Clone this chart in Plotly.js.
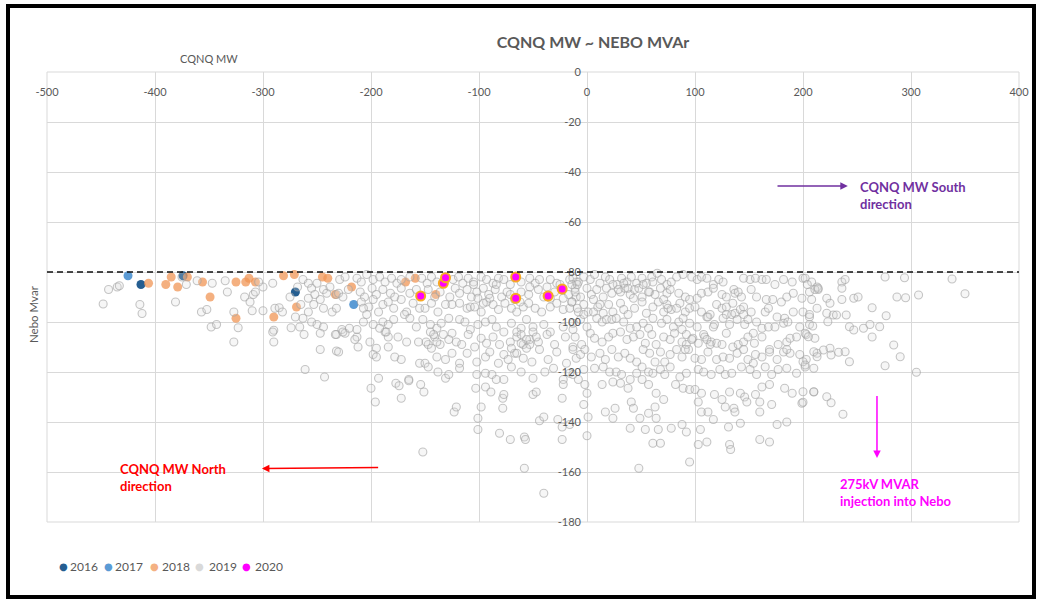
<!DOCTYPE html>
<html>
<head>
<meta charset="utf-8">
<script src="https://cdn.plot.ly/plotly-3.0.1.min.js"></script>
<style>
html,body{margin:0;padding:0;background:#fff;}
#chart{width:1039px;height:601px;}
</style>
</head>
<body>
<div id="chart"></div>
<script>
// ---------- DATA ----------
const xTickVals = [-500,-400,-300,-200,-100,0,100,200,300,400];
const yTickVals = [0,-20,-40,-60,-80,-100,-120,-140,-160,-180];
const threshold = -80;

const years = ['2016','2017','2018','2019','2020'];

const x2016 = [-413,-374,-270];
const y2016 = [-85,-81.5,-88];

const x2017 = [-425,-216];
const y2017 = [-81.5,-93];

const x2018 = [-406,-385,-390,-379,-370,-356,-349,-325,-316,-313,-307,-325,-281,-271,-269,-290,-245,-240,-233,-218,-168,-159,-140];
const y2018 = [-84.5,-82,-85,-86,-82,-84,-90,-84,-84,-82.5,-84,-98.5,-81.5,-81,-94,-98,-82,-82.5,-89,-86,-84,-82.5,-89];

const x2020 = [-154,-133,-131,-66,-66,-36,-23];
const y2020 = [-89.6,-84.5,-82.3,-82,-90.5,-89.6,-86.8];

// 2019 points [CQNQ MW, Nebo Mvar]
const pts2019 = [
// far left
[-443,-87],[-435,-86],[-433,-85.5],[-448,-92.8],[-414,-93],[-412,-96.6],[-371,-85],[-381,-92],[-361,-83.5],[-375,-82],
[-347,-84.5],[-335,-83.5],[-333,-88],[-317,-90],[-309,-89],[-357,-96],[-352,-95],[-348,-102],[-343,-101],[-323,-102.3],
[-327,-108],[-310,-95.5],[-300,-95.5],[-291,-84.5],[-289,-94.5],[-285,-94.3],[-282,-96],[-290,-103.3],[-291,-104],[-290,-108],
[-274,-102.3],[-266,-102],[-262,-105],[-247,-111],[-261,-119],[-243,-122],[-232,-111.6],[-263,-83],[-258,-84.5],[-255,-86.5],
[-250,-84.5],[-244,-87],[-241,-88.5],[-238,-86],[-232,-89],[-258,-90.5],[-247,-91],[-253,-93],[-244,-94.5],[-236,-96],
[-263,-98.5],[-255,-100],[-250,-101],[-244,-102],[-247,-104.5],[-232,-105],[-327,-96],[-312,-92],[-307,-88],[-300,-86],
[-304,-84],[-268,-86],[-275,-90],[-265,-93],[-258,-96],[-270,-98],[-252,-89],
// -240 .. -7
[-229,-83],[-224,-82],[-213,-82.5],[-209,-84],[-204,-81],[-198,-83],[-192,-82],[-187,-84],[-181,-82.5],[-176,-84.5],
[-172,-83],[-164,-82],[-153,-82.5],[-148,-84.5],[-144,-82],[-139,-84],[-124,-83],[-119,-82],[-115,-84.5],[-110,-82.5],
[-105,-84],[-98,-82],[-93,-83],[-87,-84.5],[-82,-82.5],[-77,-83],[-71,-85],[-61,-84],[-53,-82.5],[-48,-84.5],
[-44,-83],[-34,-83],[-28,-84.5],[-16,-83],[-10,-84],
[-230,-88.5],[-226,-90],[-221,-87],[-210,-88],[-206,-90],[-199,-86.5],[-195,-89],[-189,-87],[-182,-88.5],[-178,-90],
[-172,-86.5],[-164,-88.5],[-158,-87],[-147,-87],[-141,-90],[-136,-88],[-127,-90],[-122,-86.5],[-118,-88.5],[-111,-87],
[-107,-90],[-102,-88],[-96,-86.5],[-91,-89],[-85,-87],[-79,-90],[-74,-88],[-61,-88],[-54,-89],[-45,-87],
[-40,-90],[-30,-88],[-17,-89],[-10,-90],
[-232,-94.5],[-209,-92],[-202,-94],[-198,-91],[-193,-96],[-189,-93],[-184,-92],[-179,-94.5],[-172,-91],[-167,-96],
[-161,-92.5],[-155,-94.5],[-150,-94.5],[-144,-92.5],[-138,-96],[-131,-93],[-125,-93],[-118,-92.5],[-111,-94.5],[-108,-94],
[-104,-94],[-98,-96],[-93,-92],[-87,-93],[-82,-95],[-76,-92.5],[-70,-94.5],[-65,-96],[-59,-94],[-54,-92.5],
[-48,-94.5],[-42,-96],[-34,-94],[-28,-92.5],[-22,-95],[-14,-92],[-8,-96],
[-233,-105],[-227,-103],[-224,-104.5],[-213,-106],[-207,-100],[-198,-101],[-187,-104],[-184,-106],[-169,-97],[-164,-98.5],
[-158,-102],[-152,-99],[-145,-101],[-139,-102.5],[-135,-100.5],[-128,-98.5],[-125,-104.5],[-118,-99],[-113,-100],[-108,-103],
[-101,-101],[-94,-100],[-88,-99],[-84,-102],[-77,-104],[-70,-100.5],[-61,-102.5],[-56,-99],[-50,-102],[-40,-101],
[-34,-104],[-22,-102],[-13,-103],
[-230,-112],[-215,-107],[-212,-110],[-201,-108],[-195,-110.5],[-184,-110],[-175,-106],[-167,-108],[-156,-108],[-147,-109],
[-141,-106],[-136,-109],[-128,-107],[-121,-108],[-116,-109],[-110,-105],[-104,-110],[-98,-106.5],[-93,-108.5],[-87,-106],
[-81,-109],[-71,-108],[-65,-106],[-59,-109],[-53,-107],[-45,-108],[-37,-105],[-30,-109],[-20,-106],[-13,-110],
[-198,-113],[-195,-114],[-178,-114],[-172,-115],[-155,-116.5],[-150,-116.5],[-139,-114],[-131,-115],[-125,-112.5],[-118,-116.5],
[-111,-112.5],[-102,-116],[-94,-114],[-90,-112],[-82,-116.5],[-77,-113],[-73,-115],[-67,-112.5],[-59,-114.5],[-51,-116],
[-44,-111],[-36,-115],[-28,-112],[-19,-116.5],[-10,-114.5],
[-165,-123],[-147,-118],[-138,-120],[-131,-122.5],[-128,-121],[-118,-118.5],[-102,-121],[-94,-120.5],[-88,-121],[-84,-123],
[-77,-123],[-70,-118],[-61,-120],[-50,-122.5],[-39,-120],[-31,-118.5],[-22,-123],[-16,-120.5],
[-200,-126.5],[-193,-122.5],[-177,-124.5],[-174,-125.5],[-165,-123.5],[-154,-125],[-151,-128],[-103,-126.5],[-94,-126],[-89,-128],
[-78,-130.5],[-77,-129],[-50,-129],[-47,-128],[-22,-125],[-23,-130.5],
[-196,-132],[-172,-130.5],[-123,-136],[-121,-134],[-98,-134],[-78,-134.5],[-101,-138.5],[-44,-139.5],[-40,-138],[-27,-139],
[-101,-143],[-81,-144.5],[-71,-147],[-58,-146],[-57,-147],[-23,-147],[-23,-142],[-152,-152],[-58,-158.5],[-40,-168.5],
// denser clusters, -240 .. -7
[-65,-104],[-61,-105],[-56,-107],[-53,-109],[-50,-104],[-47,-106],[-61,-108.5],[-56,-110.5],[-70,-110.5],[-65,-112.5],
[-145,-104],[-142,-105],[-149,-108],[-144,-110.5],[-139,-108],[-133,-105],[-189,-100],[-184,-101],[-179,-99],[-192,-102.5],
[-186,-104],[-226,-104],[-220,-102.5],[-213,-103],[-207,-94.5],[-204,-97],[-105,-85],[-101,-90.5],[-96,-92.5],[-90,-90.5],
[-84,-85],[-71,-89],[-67,-91],[-62,-92],[-53,-86],[-37,-86],[-34,-90.5],[-25,-85],[-22,-90.5],[-16,-94.5],[-11,-86.5],
// -16 .. 215
[-13,-82.5],[-8,-84],[-3,-82],[3,-83],[7,-81],[12,-84.5],[17,-82],[21,-83],[28,-85],[32,-82.5],
[37,-84],[41,-82],[46,-84.5],[51,-82.5],[55,-84.5],[60,-82],[65,-80.5],[69,-83],[74,-85],[78,-84],
[83,-82],[89,-81],[97,-82],[102,-83],[106,-82],[111,-82.5],[117,-85],[122,-83],[126,-84],[136,-87],
[145,-82.5],[151,-83],[156,-82.5],[162,-83],[166,-83],[174,-85],[182,-83],[190,-84],[200,-82.5],[208,-84],[213,-86],
[-11,-88],[-6,-90],[0,-86.5],[4,-89],[9,-87],[15,-90],[18,-86.5],[23,-88.5],[31,-88],[35,-86.5],
[40,-89],[44,-87],[51,-90],[58,-88],[63,-89],[68,-86.5],[74,-88.5],[77,-87],[85,-88.5],[91,-90],
[95,-91],[102,-90.5],[106,-88.5],[112,-88],[117,-86.5],[125,-89],[129,-90],[137,-88.5],[140,-88],[143,-90],
[152,-87],[157,-90],[166,-91],[172,-91],[180,-92],[185,-90],[191,-88.5],[199,-90.5],[206,-88],[214,-87],
[-14,-92],[-9,-94.5],[-3,-93],[1,-96],[6,-91],[10,-94],[15,-96.5],[20,-93],[24,-96],[31,-92.5],
[34,-95],[38,-97],[44,-94.5],[51,-92],[55,-96.5],[61,-94],[66,-92],[71,-96],[74,-93],[78,-95],
[86,-92.5],[91,-96],[95,-94.5],[100,-94],[106,-96],[111,-98],[114,-97],[120,-93],[125,-94.5],[129,-97],
[134,-97],[137,-96.5],[142,-95],[145,-94],[152,-96],[157,-100],[165,-96],[168,-94.5],[176,-98],[183,-98.5],
[191,-96],[200,-96],[206,-98],[213,-94.5],
[-13,-100.5],[-6,-99],[0,-102],[9,-98.5],[14,-100],[18,-99],[23,-99],[27,-98.5],[34,-100],[40,-102.5],
[46,-102],[52,-100.5],[57,-102.5],[61,-98.5],[69,-100.5],[74,-99],[80,-102],[85,-100],[89,-98.5],[95,-100.5],
[102,-102],[108,-105],[112,-98],[118,-101],[126,-98.5],[132,-101],[139,-99],[146,-101],[154,-104.5],[162,-102.5],
[168,-102],[174,-102],[182,-100.5],[186,-100],[197,-102],[206,-101],
[-11,-106],[-5,-109],[3,-104.5],[7,-106.5],[14,-108],[20,-106],[24,-104.5],[31,-104],[37,-107],[43,-106],
[49,-105],[54,-108.5],[60,-105],[64,-109],[71,-106],[77,-107],[81,-104.5],[88,-108],[92,-109],[98,-106.5],
[103,-108.5],[109,-106],[115,-108],[120,-108.5],[125,-109],[129,-104.5],[135,-110],[140,-109],[145,-108],[149,-106],
[155,-108.5],[162,-106],[169,-111],[177,-109],[185,-108],[194,-106],[203,-105],[211,-106.5],
[-13,-111],[-6,-113],[-2,-111],[4,-114],[12,-112.5],[17,-115],[23,-111],[29,-114],[35,-112.5],[40,-114.5],
[46,-116],[52,-111],[58,-112.5],[63,-116],[68,-112],[72,-116],[77,-113],[83,-111],[88,-114],[94,-111],
[100,-114.5],[106,-115],[112,-112],[120,-115],[126,-114],[132,-114.5],[139,-112.5],[145,-111],[149,-115],[154,-116.5],
[162,-114],[169,-112],[176,-115],[182,-112],[188,-112.5],[197,-113],[203,-115],[213,-112.5],
[-13,-121],[-3,-119],[7,-118.5],[15,-118],[21,-120],[27,-120],[32,-121],[40,-123],[46,-120.5],[51,-118],
[57,-120],[61,-120.5],[68,-119],[72,-121],[77,-118],[86,-122],[92,-120.5],[103,-119],[108,-120],[115,-121],
[123,-119],[128,-121],[134,-120.5],[143,-118],[151,-119],[157,-121],[165,-118],[171,-121],[177,-119],[185,-118.5],
[194,-120.5],[202,-118],[210,-118.5],
[-8,-123],[-2,-125],[0,-128.5],[14,-125],[24,-124],[31,-124.5],[38,-126.5],[51,-123],[57,-125],[64,-128.5],
[71,-131],[82,-125],[89,-126.5],[95,-127],[100,-127],[106,-128.5],[118,-129],[125,-131],[132,-128],[142,-128.5],
[146,-130],[156,-129],[162,-126],[169,-125],[183,-126.5],[190,-128.5],[199,-132.5],[210,-128],
[-3,-133],[1,-138],[17,-136],[24,-138.5],[26,-134.5],[41,-132],[43,-134.5],[49,-138.5],[57,-136.5],[63,-134],
[64,-138.5],[103,-132],[106,-136],[112,-136],[117,-139],[128,-134],[136,-134.5],[137,-136],[148,-132],[160,-132],
[160,-136],[171,-133],[185,-140],
[-16,-141],[0,-145.5],[40,-142.5],[54,-143],[66,-143],[78,-142.5],[88,-141],[92,-144],[105,-143],[111,-148],
[103,-149],[61,-148.5],[68,-148.5],[132,-149],[133,-151],[131,-142],[142,-140.5],[160,-147],[169,-148],[176,-141],
[48,-158.5],[95,-156],
// denser clusters, -16 .. 215
[24,-85],[29,-87],[34,-84.5],[38,-86.5],[43,-90.5],[48,-86.5],[52,-85],[57,-88],[61,-84],[12,-93],
[6,-96],[-3,-97],[-9,-85],[-14,-85],[71,-91],[75,-94.5],[83,-94.5],[88,-103],[92,-105],[97,-107],
[91,-111],[111,-107],[114,-109],[117,-102],[129,-94],[135,-92.5],[145,-97],[149,-99],[156,-113],[185,-111],
[188,-106.5],
// right
[202,-82.5],[204,-85],[211,-87],[214,-86.5],[208,-91],[222,-90.5],[225,-92.5],[236,-84],[239,-83],[236,-86.5],
[236,-91],[247,-90.5],[251,-90],[264,-94.3],[277,-97.5],[276,-82],[294,-82.3],[287,-90],[295,-90.3],[307,-89.2],
[338,-82.8],[350,-88.7],[206,-97],[209,-101.6],[222,-96.5],[223,-99.9],[228,-97.2],[231,-97.2],[240,-97.2],[243,-101.9],
[247,-103.2],[256,-102.5],[262,-101],[271,-101.9],[264,-106],[202,-104.5],[205,-105.9],[284,-109.2],[290,-113.9],[276,-117.5],
[305,-120.1],[210,-111.9],[213,-113.9],[219,-111.2],[225,-110.5],[226,-113.2],[233,-112.1],[239,-111.9],[243,-115.9],[200,-115.9],
[202,-117.2],[200,-127.9],[210,-127.9],[222,-129.9],[226,-132.3],[237,-136.9],[200,-132.1]
];
const x2019 = pts2019.map(p => p[0]);
const y2019 = pts2019.map(p => p[1]);

// ---------- STYLE ----------
const FONT = 'Lato, "Open Sans", sans-serif';
const GREY = '#595959';
const W = 1039, H = 601;
const M = {l:47, r:20, t:72, b:79};
const PW = W - M.l - M.r, PH = H - M.t - M.b;
const px2x = px => (px - M.l) / PW;          // paper x from pixel
const py2y = py => (H - M.b - py) / PH;      // paper y from pixel

const traces = [
  {name:'2016', x:x2016, y:y2016, type:'scatter', mode:'markers',
   marker:{size:9, color:'#255e91', line:{width:0}}},
  {name:'2017', x:x2017, y:y2017, type:'scatter', mode:'markers',
   marker:{size:9, color:'#5b9bd5', line:{width:0}}},
  {name:'2018', x:x2018, y:y2018, type:'scatter', mode:'markers',
   marker:{size:9, color:'rgba(240,150,85,0.75)', line:{width:0}}},
  {name:'2019', x:x2019, y:y2019, type:'scatter', mode:'markers',
   marker:{size:8, color:'rgba(220,220,220,0.25)', line:{width:1.1, color:'rgba(160,160,160,0.6)'}}},
  {name:'2020', x:x2020, y:y2020, type:'scatter', mode:'markers',
   marker:{size:9, color:'#ff00ff', line:{width:2, color:'#f7a823'}}}
];

const legendItems = [
  {sym:'●', col:'#255e91', dot:63, txt:68},
  {sym:'●', col:'#5b9bd5', dot:108, txt:113},
  {sym:'●', col:'#f4b183', dot:154, txt:160},
  {sym:'●', col:'#d9d9d9', dot:199, txt:207},
  {sym:'●', col:'#ff00ff', dot:246, txt:253}
];

const annotations = [
  // axis titles
  {xref:'paper', yref:'paper', x:px2x(209), y:py2y(58), text:'CQNQ MW', showarrow:false,
   font:{family:FONT, size:11, color:GREY}, xanchor:'center', yanchor:'middle'},
  {xref:'paper', yref:'paper', x:px2x(33), y:py2y(314), text:'Nebo Mvar', showarrow:false, textangle:-90,
   font:{family:FONT, size:11.5, color:GREY}, xanchor:'center', yanchor:'middle'},
  // arrows
  {xref:'x', yref:'y', axref:'x', ayref:'y', x:241.5, y:-45.6, ax:175, ay:-45.6, text:'', showarrow:true,
   arrowhead:2, arrowsize:1, arrowwidth:1.5, arrowcolor:'#7030a0'},
  {xref:'x', yref:'y', axref:'x', ayref:'y', x:-301, y:-158.6, ax:-192, ay:-158.2, text:'', showarrow:true,
   arrowhead:2, arrowsize:1, arrowwidth:1.5, arrowcolor:'#ff0000'},
  {xref:'x', yref:'y', axref:'x', ayref:'y', x:268.5, y:-154.4, ax:268.5, ay:-129, text:'', showarrow:true,
   arrowhead:2, arrowsize:1, arrowwidth:1.5, arrowcolor:'#ff00ff'},
  // arrow labels
  {xref:'x', yref:'y', x:251, y:-49.2, text:'<b>CQNQ MW South<br>direction</b>', showarrow:false, align:'left',
   xanchor:'left', yanchor:'middle', font:{family:FONT, size:13, color:'#7030a0'}},
  {xref:'x', yref:'y', x:-434, y:-162.3, text:'<b>CQNQ MW North<br>direction</b>', showarrow:false, align:'left',
   xanchor:'left', yanchor:'middle', font:{family:FONT, size:13, color:'#ff0000'}},
  {xref:'x', yref:'y', x:232.4, y:-168, text:'<b>275kV MVAR<br>injection into Nebo</b>', showarrow:false, align:'left',
   xanchor:'left', yanchor:'middle', font:{family:FONT, size:13, color:'#ff00ff'}}
];
legendItems.forEach((it, i) => {
  annotations.push({xref:'paper', yref:'paper', x:px2x(it.dot), y:py2y(566), text:it.sym, showarrow:false,
    xanchor:'center', yanchor:'middle', font:{family:'DejaVu Sans', size:10, color:it.col}});
  annotations.push({xref:'paper', yref:'paper', x:px2x(it.txt), y:py2y(566), text:years[i], showarrow:false,
    xanchor:'left', yanchor:'middle', font:{family:FONT, size:12, color:GREY}});
});

const layout = {
  width:W, height:H,
  margin:M,
  paper_bgcolor:'#fff', plot_bgcolor:'#fff',
  showlegend:false,
  font:{family:FONT, color:GREY},
  title:{text:'<b>CQNQ MW ~ NEBO MVAr</b>', x:593/W, xref:'container', xanchor:'center',
         y:1 - 42/H, yref:'container', yanchor:'middle', font:{family:FONT, size:16, color:GREY}},
  xaxis:{range:[-500,400], anchor:'free', position:1, side:'bottom',
         tickvals:xTickVals, ticktext:xTickVals.map(String),
         ticks:'', ticklabelstandoff:12,
         showgrid:true, gridcolor:'#d9d9d9', gridwidth:1, zeroline:false, showline:false,
         tickfont:{family:FONT, size:11, color:GREY}, fixedrange:true},
  yaxis:{range:[-180,0], anchor:'free', position:500/900, side:'left',
         tickvals:yTickVals, ticktext:yTickVals.map(String), ticks:'', ticklabelstandoff:6,
         showgrid:true, gridcolor:'#d9d9d9', gridwidth:1, zeroline:false, showline:false,
         tickfont:{family:FONT, size:11, color:GREY}, fixedrange:true},
  shapes:[
    {type:'rect', xref:'paper', yref:'paper', x0:0, x1:1, y0:0, y1:1, layer:'below',
     line:{color:'#d9d9d9', width:1}, fillcolor:'rgba(0,0,0,0)'},
    {type:'line', xref:'paper', x0:0, x1:1, yref:'y', y0:threshold, y1:threshold,
     line:{color:'#111', width:1.5, dash:'6px,4px'}},
    {type:'rect', xref:'paper', yref:'paper', x0:px2x(8), x1:px2x(1034), y0:py2y(597), y1:py2y(6),
     line:{color:'#000', width:4}, fillcolor:'rgba(0,0,0,0)'}
  ],
  annotations:annotations
};

Plotly.newPlot('chart', traces, layout, {displayModeBar:false, staticPlot:true});
</script>
</body>
</html>
